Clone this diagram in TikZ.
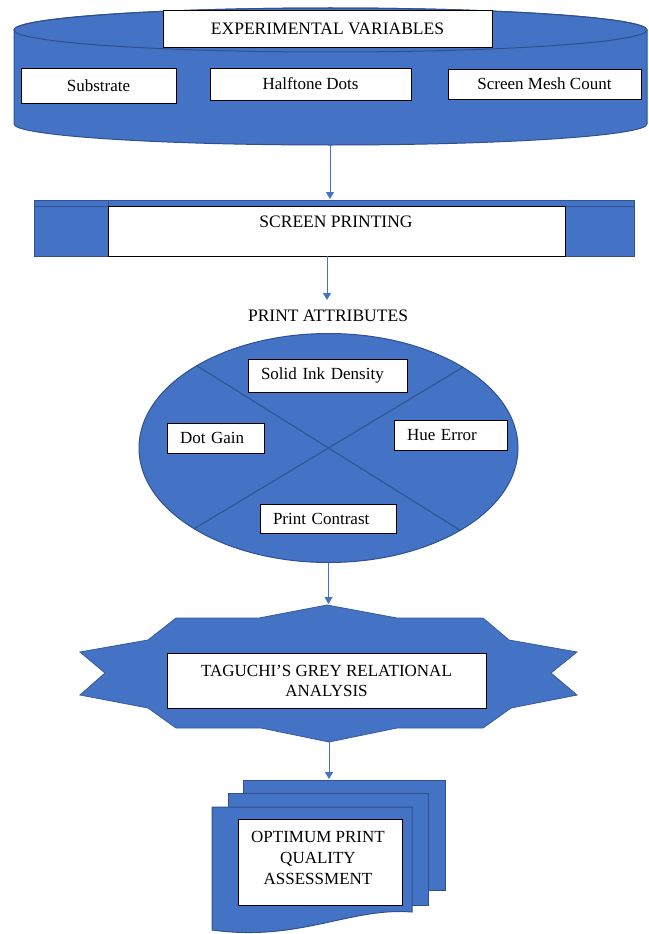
\documentclass[tikz,border=0pt]{standalone}
\usepackage{fontspec}
\setmainfont{Liberation Serif}
\usetikzlibrary{arrows.meta,calc,shapes.geometric}
\definecolor{bfill}{HTML}{4472C4}
\definecolor{bline}{HTML}{2F528F}
\tikzset{
  wbox/.style={draw=black, fill=white, line width=0.9pt, inner sep=0pt},
  blueshape/.style={fill=bfill, draw=bline, line width=1pt},
  flow/.style={draw=bfill, line width=1pt, -{Triangle[length=7pt,width=8pt]}},
  lab/.style={font=\fontsize{17}{20}\selectfont},
  ttl/.style={font=\fontsize{17.5}{20}\selectfont},
  lbox/.style={wbox, lab, align=left, inner xsep=13pt, inner ysep=0pt},
}
\begin{document}
\begin{tikzpicture}[x=1pt,y=-1pt]
\useasboundingbox (0,0) rectangle (648,934);

% ---------- cylinder: experimental variables ----------
\path[blueshape] (14,30) -- (14,124)
  arc[start angle=180, end angle=0, x radius=316.5, y radius=21]
  -- (647,30) arc[start angle=0, end angle=-180, x radius=316.5, y radius=22] -- cycle;
\draw[bline, line width=1pt] (330.5,30) ellipse [x radius=316.5, y radius=22];
\coordinate (cylB) at (330,145);

\node[wbox, ttl, minimum width=329pt, minimum height=37pt] (ev) at (327.5,28.5) {EXPERIMENTAL VARIABLES};
\node[wbox, lab, minimum width=155pt, minimum height=35pt] (sub) at (98.5,85.5) {Substrate};
\node[wbox, lab, minimum width=201pt, minimum height=32pt] (half) at (310.5,84) {Halftone Dots};
\node[wbox, lab, minimum width=193pt, minimum height=30pt] (mesh) at (544.5,84) {Screen Mesh Count};

% ---------- screen printing ----------
\node[blueshape, minimum width=600pt, minimum height=56pt, inner sep=0pt] (sp) at (334,228) {};
\draw[bline, line width=1pt] (34,206) -- (634,206);
\draw[bline, line width=1pt] (108,200) -- (108,206);
\node[wbox, minimum width=457pt, minimum height=50pt] (spw) at (336.5,231) {};
\node[ttl, inner sep=0pt] (sptxt) at (336,222) {SCREEN PRINTING};
\coordinate (spTop) at (330,199);
\coordinate (spBot) at (327,256);

\draw[flow] (cylB) -- (spTop);

% ---------- print attributes ----------
\node[ttl, inner sep=0pt] (pa) at (328,316) {PRINT ATTRIBUTES};
\coordinate (paTop) at (327,300);
\draw[flow] (spBot) -- (paTop);

\node[ellipse, blueshape, minimum width=379pt, minimum height=229pt, inner sep=0pt] (att) at (328.5,448) {};
\draw[bline, line width=1pt] (att.31.9) -- (att.211.9);
\draw[bline, line width=1pt] (att.148.1) -- (att.328.1);

\node[lbox, text width=133pt, minimum height=33pt] (sid) at (327.5,375.5) {Solid Ink Density};
\node[lbox, text width=71pt, minimum height=30pt] (dg) at (215.5,438) {Dot Gain};
\node[lbox, text width=87pt, minimum height=30pt] (he) at (450.5,435) {Hue Error};
\node[lbox, text width=110pt, minimum height=29pt] (pc) at (328,518.5) {Print Contrast};

% ---------- Taguchi star ----------
\coordinate (stTop) at (328.5,604);
\coordinate (stBot) at (329,742);
\path[blueshape, line width=0.8pt, draw=bfill!80!black] (327,605) -- (397,618) -- (483,618) -- (509,640) -- (577,652)
  -- (551,673) -- (577,695) -- (511,708) -- (483,728) -- (397,728) -- (329,742)
  -- (261,728) -- (176,728) -- (148,708) -- (80,695) -- (105,673) -- (80,652)
  -- (148,640) -- (176,618) -- (259,618) -- cycle;
\draw[flow] (att.south) -- (stTop);
\node[wbox, lab, align=center, minimum width=319pt, minimum height=55pt] (tg) at (326.5,680.5)
  {TAGUCHI’S GREY RELATIONAL\\ANALYSIS};

% ---------- multi-document ----------
\coordinate (docTop) at (329,779);
\draw[flow] (stBot) -- (docTop);
\path[blueshape] (243,780) rectangle (445,890);
\path[blueshape] (228,793) rectangle (428,905);
\path[blueshape] (212,807) -- (412,807) -- (412,912)
  .. controls (350,907) and (300,942) .. (212,930) -- cycle;
\node[wbox, minimum width=164pt, minimum height=86pt] (opt) at (320,862) {};
\node[align=center, font=\fontsize{17}{21}\selectfont, inner sep=0pt] (opttxt) at (318,858)
  {OPTIMUM PRINT\\QUALITY\\ASSESSMENT};
\end{tikzpicture}
\end{document}
